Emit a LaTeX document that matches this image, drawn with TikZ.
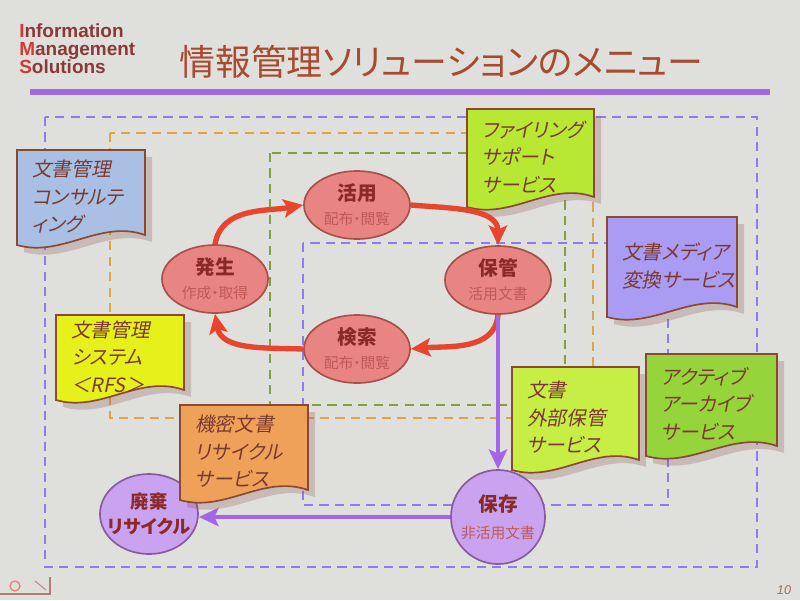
\documentclass[tikz,border=0pt]{standalone}
\usepackage{fontspec}
\setmainfont[RawFeature=+palt]{Noto Sans CJK JP}
\newfontfamily\jpslant[FakeSlant=0.2,RawFeature=+palt]{Noto Sans CJK JP}
\newfontfamily\logofont{Liberation Sans}
\usepackage{tikz}
\usetikzlibrary{arrows.meta,shapes.geometric}
\definecolor{bgcol}{HTML}{DFE0DC}
\definecolor{boxline}{HTML}{8A4A30}
\definecolor{boxtext}{HTML}{7A3A30}
\definecolor{consultcol}{HTML}{A9BFE3}
\definecolor{filingcol}{HTML}{B9E834}
\definecolor{mediacol}{HTML}{A99CF2}
\definecolor{rfscol}{HTML}{E6F01A}
\definecolor{secretcol}{HTML}{EFA15A}
\definecolor{offsitecol}{HTML}{C6EE44}
\definecolor{archivecol}{HTML}{95D43A}
\definecolor{stagefill}{HTML}{E88582}
\definecolor{stageline}{HTML}{A8504A}
\definecolor{stagesub}{HTML}{C05A55}
\definecolor{stagetext}{HTML}{8A2A28}
\definecolor{keepfill}{HTML}{C9A3F0}
\definecolor{keepline}{HTML}{8A5AA0}
\definecolor{cyclered}{HTML}{E8442E}
\definecolor{keeppurple}{HTML}{A466E6}
\definecolor{outerdash}{HTML}{8C7CF0}
\definecolor{orangedash}{HTML}{E0A448}
\definecolor{greendash}{HTML}{7FA046}
\definecolor{titlecol}{HTML}{A84A30}
\definecolor{rulecol}{HTML}{A468E2}
\definecolor{logored}{HTML}{D03A36}
\definecolor{logotext}{HTML}{8A3A36}
\tikzset{>={Stealth[length=14pt,width=13pt,inset=3pt]}}
\tikzset{
    rim/.style={dash pattern=on 6.5pt off 4.5pt,line width=1.4pt},
    docline/.style={draw=boxline,line width=1.2pt},
    docshadow/.style={fill=black!45!red!40!gray,opacity=.25},
    doctext/.style={anchor=west,align=left,inner sep=0pt,text=boxtext,
        font=\jpslant\fontsize{14}{19.5}\selectfont},
    stage/.style={ellipse,draw=stageline,fill=stagefill,line width=1.2pt,
        minimum width=2.65cm,minimum height=1.7cm,inner sep=0pt,align=center,
        text=stagetext,font=\bfseries\fontsize{14}{17}\selectfont},
    keep/.style={circle,draw=keepline,fill=keepfill,line width=1.2pt,
        inner sep=0pt,align=center,text=stagetext,
        font=\bfseries\fontsize{14}{19}\selectfont},
    cycle/.style={->,draw=cyclered,line width=3.8pt},
    flow/.style={->,draw=keeppurple,line width=3pt}
}
\newcommand\stagesub[1]{{\color{stagesub}\mdseries\fontsize{10.5}{12}\selectfont #1}}
\newcommand\docbox[7]{
    \fill[docshadow] ({#2+7},{#3+7}) -- ({#4+7},{#3+7}) -- ({#4+7},{#5-3})
        .. controls ({#4-0.35*(#4-#2)+7},{#5-19}) and ({#2+0.35*(#4-#2)+7},{#5+20}) .. ({#2+7},{#5+7}) -- cycle;
    \filldraw[docline,fill=#6] (#2,#3) -- (#4,#3) -- (#4,{#5-10})
        .. controls ({#4-0.35*(#4-#2)},{#5-26}) and ({#2+0.35*(#4-#2)},{#5+13}) .. (#2,#5) -- cycle;
    \node[doctext] (#1) at ({#2+15},{(#3+#5)/2-1}) {#7};
}
\begin{document}
\begin{tikzpicture}[x=0.025cm,y=-0.025cm]
    \fill[bgcol] (0,0) rectangle (800,600);
    \useasboundingbox (0,0) rectangle (800,600);

    \node[anchor=north west,align=left,inner sep=0pt,text=logotext,
        font=\logofont\bfseries\fontsize{13.5}{12.8}\selectfont] (logo) at (19,23)
        {\textcolor{logored}{I}nformation\\\textcolor{logored}{M}anagement\\\textcolor{logored}{S}olutions};
    \node[anchor=west,inner sep=0pt,text=titlecol,font=\fontsize{25.5}{25.5}\selectfont]
        (title) at (179,62) {情報管理ソリューションのメニュー};
    \draw[rulecol,line width=4.5pt] (30,92) -- (770,92);

    \draw[rim,outerdash] (45,117) rectangle (757,567);
    \draw[rim,orangedash] (110,133) rectangle (593,418);
    \draw[rim,greendash] (270,153) rectangle (565,405);
    \draw[rim,outerdash] (303,243) rectangle (668,505);

    \node[keep,ellipse,inner sep=-5pt,minimum width=2.45cm,minimum height=2cm,
        font=\bfseries\fontsize{13}{18}\selectfont] (haiki) at (149,514) {廃棄\\リサイクル};
    \node[keep,minimum size=2.35cm] (hozon) at (498,517) {保存\\\stagesub{非活用文書}};

    \docbox{consult}{17}{150}{145}{245}{consultcol}{文書管理\\コンサルテ\\ィング}
    \docbox{filing}{467}{109}{594}{207}{filingcol}{ファイリング\\サポート\\サービス}
    \docbox{media}{607}{217}{737}{317}{mediacol}{文書メディア\\変換サービス}
    \docbox{rfs}{56}{315}{184}{400}{rfscol}{文書管理\\システム\\＜RFS＞}
    \docbox{secret}{180}{405}{308}{500}{secretcol}{機密文書\\リサイクル\\サービス}
    \docbox{offsite}{512}{367}{639}{470}{offsitecol}{文書\\外部保管\\サービス}
    \docbox{archive}{646}{354}{777}{456}{archivecol}{アクティブ\\アーカイブ\\サービス}

    \node[stage] (katsuyo) at (357,205) {活用\\\stagesub{配布・閲覧}};
    \node[stage] (hassei) at (215,279) {発生\\\stagesub{作成・取得}};
    \node[stage] (hokan) at (498,280) {保管\\\stagesub{活用文書}};
    \node[stage] (kensaku) at (357,349) {検索\\\stagesub{配布・閲覧}};

    \draw[cycle] (hassei.north) to[out=80,in=190] (katsuyo.west);
    \draw[cycle] (katsuyo.east) to[out=-5,in=90] (hokan.north);
    \draw[cycle] (hokan.south) to[out=-95,in=5] (kensaku.east);
    \draw[cycle] (kensaku.west) to[out=178,in=-80] (hassei.south);

    \draw[flow] (hokan.south) -- (hozon.north);
    \draw[flow] (hozon.west) -- (haiki.east |- hozon.west);

    \draw[boxline!70,line width=1pt] (0,594) -- (50,594) -- (50,577);
    \draw[stagefill,line width=1pt] (15,586) circle (5);
    \draw[boxline!60,line width=.8pt] (35,581) -- (46,590);
    \node[text=boxline!80,font=\logofont\itshape\fontsize{9}{9}\selectfont] (pageno) at (784,590) {10};
\end{tikzpicture}
\end{document}
